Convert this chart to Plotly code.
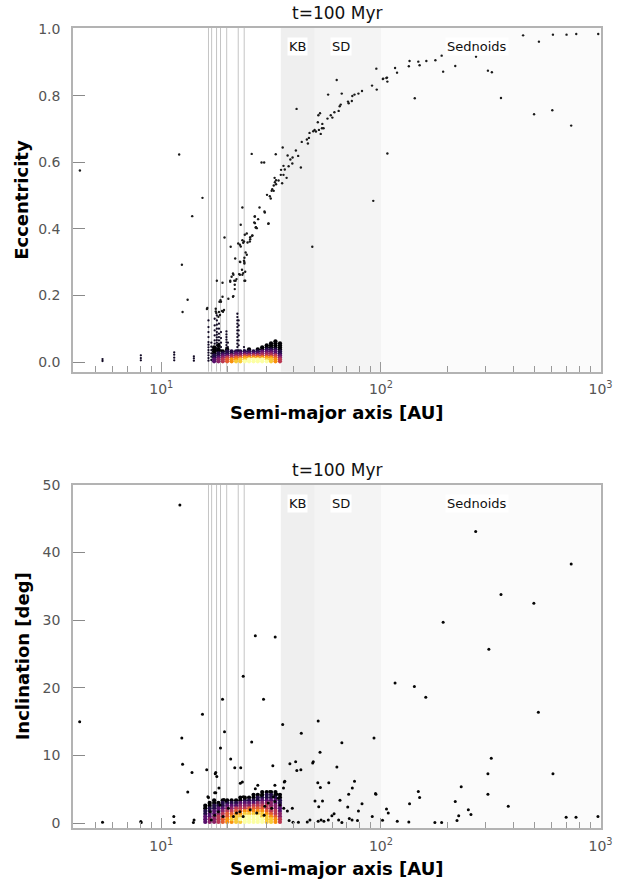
import math
import plotly.graph_objects as go

# ---------------- data ----------------
TITLE = "t=100 Myr"

# resonance locations [AU] (thin vertical lines)
resonance_a = [16.4, 16.95, 17.85, 18.6, 19.85, 22.4, 23.85]

# dynamical regions [AU]
region_names = ["KB", "SD", "Sednoids"]
region_lo = [35, 50, 100]
region_hi = [50, 100, 1000]
region_label_a = [41.6, 65.8, 275]

# x tick labels
xtick_vals = [10, 100, 1000]
xtick_text = ["10<sup>1</sup>", "10<sup>2</sup>", "10<sup>3</sup>"]

# ---- eccentricity panel: isolated particles (a [AU], e)
ecc_a = [4.26, 12.06, 15.4, 13.83, 12.41, 13.18, 12.5, 16.13, 48.7, 92.3, 107,
         95.3, 116, 118.4, 62.9, 102, 106.6, 107, 91.1, 95.7, 57.5, 66.3, 82.0, 79, 75.8, 74.1,
         73.7, 70.8, 71.3, 65.6, 64.9, 61.4, 64.2, 41.3, 52.8, 51.9, 59.1, 60.1, 57.1, 51.6,
         54.1, 53.9, 54.8, 52.2, 49.9, 50.6, 49.2, 53.2, 47.3, 47.0, 46.0, 43.6, 46.5, 35.7,
         33.2, 41.0, 37.6, 39.6, 42.0, 38.7, 39.5, 43.2, 38.0, 36.0, 36.5, 35.1, 35.0, 36.0,
         37.2, 32.8, 33.3, 34.2, 32.9, 32.5, 33.3, 32.0, 35.5, 31.8, 32.5, 30.3, 31.2, 31.5,
         25.8, 28.6, 29.4, 23.4, 28.0, 29.5, 29.6, 30.8, 26.7, 27.6, 26.5, 26.9, 27.2, 23.0,
         19.4, 24.5, 24.0, 26.0, 25.4, 23.4, 23.8, 22.4, 25.3, 23.6, 20.7, 23.0, 24.2, 24.5,
         21.7, 23.9, 23.8, 22.8, 23.9, 23.6, 23.4, 22.6, 21.2, 20.9, 22.0, 21.5, 21.8, 20.6,
         24.1, 17.9, 19.0, 21.6, 20.2, 21.2,
         21.3, 22.8, 23.9, 24.1, 23.3, 23.9, 22.9, 22.8, 24.7, 25.4, 25.9, 26.7, 27.0, 26.6, 30.7,
         17.7, 17.7, 18.4, 18.7, 18.9, 19.3, 18.3, 18.2, 18.5, 19.0, 18.6, 19.1, 21.3, 21.6,
         20.6, 16.2, 17.8,
         444, 607, 700, 775, 976, 524, 189, 177, 161, 148, 150, 135, 134, 102.5, 192, 218, 271,
         307, 320, 142.6, 352, 498, 603, 735, 105.9]
ecc_e = [0.575, 0.623, 0.493, 0.438, 0.292, 0.187, 0.150, 0.159, 0.346, 0.484, 0.626,
         0.881, 0.883, 0.869, 0.847, 0.850, 0.854, 0.842, 0.830, 0.818, 0.803, 0.806, 0.814, 0.806, 0.803, 0.799,
         0.784, 0.782, 0.777, 0.773, 0.768, 0.750, 0.754, 0.760, 0.747, 0.741, 0.741, 0.734, 0.731, 0.720,
         0.715, 0.702, 0.702, 0.697, 0.697, 0.692, 0.693, 0.685, 0.688, 0.673, 0.668, 0.661, 0.656, 0.644,
         0.624, 0.635, 0.620, 0.614, 0.619, 0.608, 0.596, 0.584, 0.588, 0.589, 0.578, 0.577, 0.562, 0.562,
         0.553, 0.553, 0.546, 0.545, 0.540, 0.530, 0.534, 0.519, 0.537, 0.514, 0.514, 0.502, 0.498, 0.491,
         0.625, 0.599, 0.599, 0.464, 0.464, 0.452, 0.449, 0.416, 0.437, 0.429, 0.419, 0.404, 0.402, 0.412,
         0.374, 0.386, 0.382, 0.380, 0.375, 0.366, 0.362, 0.356, 0.362, 0.358, 0.346, 0.347, 0.329, 0.322,
         0.311, 0.313, 0.304, 0.301, 0.296, 0.267, 0.262, 0.264, 0.266, 0.256, 0.249, 0.244, 0.244, 0.241,
         0.244, 0.244, 0.238, 0.219, 0.190, 0.196,
         0.262, 0.262, 0.244, 0.271, 0.277, 0.300, 0.300, 0.352, 0.359, 0.369, 0.379, 0.417, 0.405, 0.437, 0.415,
         0.160, 0.152, 0.181, 0.181, 0.153, 0.156, 0.150, 0.136, 0.141, 0.196, 0.186, 0.151, 0.198, 0.232,
         0.244, 0.162, 0.147,
         0.981, 0.983, 0.983, 0.985, 0.985, 0.962, 0.920, 0.906, 0.904, 0.902, 0.891, 0.904, 0.888, 0.851, 0.872, 0.889, 0.917,
         0.875, 0.870, 0.792, 0.793, 0.744, 0.756, 0.710, 0.853]

# ---- eccentricity panel: resonant / low-e columns (a [AU] with the e values in each column)
ecc_stack_a = [5.4, 8.07, 11.45, 14.07, 16.4, 16.9, 17.5, 17.9, 18.3, 18.7, 19.8, 20.1, 22.2, 22.5, 23.8]
ecc_stack_e = [
    [0.003, 0.009],
    [0.005, 0.012, 0.020],
    [0.005, 0.013, 0.022, 0.029],
    [0.004, 0.011, 0.017],
    [0.004, 0.012, 0.020, 0.028, 0.036, 0.044, 0.052, 0.060, 0.075, 0.090, 0.105, 0.125],
    [0.006, 0.016, 0.026, 0.036, 0.046, 0.058],
    [0.035, 0.045, 0.055, 0.065, 0.080, 0.095, 0.110, 0.130],
    [0.035, 0.042, 0.050, 0.058, 0.066, 0.074, 0.082, 0.090, 0.100, 0.112, 0.125, 0.140],
    [0.035, 0.045, 0.055, 0.065, 0.075, 0.085, 0.100, 0.115],
    [0.035, 0.045, 0.058, 0.072, 0.090],
    [0.035, 0.043, 0.051, 0.059, 0.067, 0.075, 0.083, 0.092],
    [0.035, 0.045, 0.058],
    [0.035, 0.045, 0.055, 0.065, 0.075, 0.085, 0.095, 0.105, 0.115, 0.125, 0.135, 0.145],
    [0.035, 0.050, 0.065, 0.080, 0.095, 0.110, 0.125],
    [0.035, 0.045],
]

# ---- eccentricity panel: dense classical belt (point density, 0 = empty)
ecc_band_a = [17.4, 18.2, 19.05, 19.95, 20.9, 21.9, 22.9, 24.0, 25.1, 26.3, 27.5, 28.8, 30.2, 31.6, 33.1, 34.7]
ecc_band_e = [0.002, 0.008, 0.014, 0.020, 0.026, 0.032, 0.038, 0.044, 0.050, 0.056, 0.062]
ecc_band_density = [
    [3, 4, 5, 6, 7, 8, 8, 9, 9, 9, 9, 9, 9, 8, 7, 5],
    [3, 4, 5, 6, 7, 7, 8, 8, 9, 9, 9, 9, 8, 8, 7, 5],
    [2, 3, 4, 5, 5, 6, 6, 7, 7, 7, 7, 7, 7, 7, 6, 4],
    [2, 2, 3, 3, 4, 4, 4, 5, 5, 5, 5, 5, 5, 5, 5, 3],
    [1, 2, 2, 2, 2, 3, 3, 3, 3, 3, 3, 4, 4, 4, 3, 2],
    [1, 1, 1, 2, 2, 2, 2, 2, 2, 2, 2, 3, 3, 3, 3, 2],
    [1, 1, 0, 1, 0, 0, 0, 0, 1, 0, 1, 1, 2, 2, 2, 1],
    [1, 0, 0, 0, 0, 0, 0, 0, 0, 0, 0, 1, 1, 1, 1, 1],
    [0, 1, 0, 0, 0, 0, 0, 0, 0, 0, 0, 0, 1, 1, 1, 1],
    [0, 0, 0, 0, 0, 0, 0, 0, 0, 0, 0, 0, 0, 1, 1, 1],
    [0, 0, 0, 0, 0, 0, 0, 0, 0, 0, 0, 0, 0, 0, 1, 0],
]

# ---- inclination panel: isolated particles (a [AU], i [deg])
inc_a = [4.25, 15.4, 12.4, 12.5, 13.8, 13.2, 11.4, 11.45, 5.4, 8.07, 8.1, 14.1, 14.0, 12.15,
         16.1, 16.3, 17.6, 17.9, 17.7, 17.5, 18.3, 18.6, 19.0, 19.4, 20.7, 21.6, 23.0, 23.6, 23.4,
         22.9, 25.8, 26.8, 29.2, 33.0, 27.5, 26.8, 28.6, 32.2, 32.9, 35.7, 36.3, 38.5, 40.9, 41.4,
         43.2, 43.4, 48.9, 49.2, 51.8, 52.8, 51.6, 53.0, 57.9, 50.1, 54.2, 52.1, 63.0, 66.4, 65.1,
         71.3, 74.1, 75.8, 70.6, 82.0, 79.0, 93.0, 94.5, 94.9, 91.3, 116, 106, 108, 101.7, 118.7,
         270, 735, 352, 497, 192, 310, 142, 160, 521, 318, 307, 607, 307, 380, 232, 218, 250, 257,
         226, 222, 148, 150, 135, 134, 176, 189, 697, 773, 973,
         39.5, 37.5, 36.1, 36.0, 38.2, 39.8, 42.1, 46.2, 47.5, 61.2, 59.8, 71.8, 73.9, 78.2, 66.4,
         64.2, 57.6, 55.0, 53.4, 51.8,
         16.4, 17.7, 19.3, 19.7, 23.6, 24.0, 31.2, 33.7, 36.5]
inc_i = [15.0, 16.1, 12.6, 8.7, 7.5, 4.6, 1.0, 0.1, 0.15, 0.25, 0.1, 0.5, 0.1, 47.0,
         7.9, 3.9, 7.3, 6.9, 7.5, 4.5, 5.2, 11.1, 18.3, 13.5, 9.5, 8.2, 8.2, 21.7, 6.1,
         5.9, 12.0, 27.7, 18.3, 27.5, 5.6, 5.1, 4.1, 8.5, 5.6, 14.6, 6.1, 8.8, 9.1, 7.8,
         7.9, 13.3, 8.9, 9.1, 15.1, 10.5, 6.0, 5.3, 6.0, 3.3, 3.3, 2.45, 8.3, 11.9, 3.4,
         4.3, 5.2, 6.2, 2.4, 2.9, 1.8, 12.6, 4.4, 4.3, 1.0, 20.7, 2.1, 1.5, 0.45, 0.3,
         43.1, 38.3, 33.8, 32.5, 29.7, 25.7, 20.2, 18.6, 16.4, 9.6, 7.3, 7.3, 4.3, 2.5, 5.4, 3.2, 2.0, 1.3,
         1.1, 0.4, 4.7, 3.8, 2.9, 0.2, 0.1, 0.1, 0.9, 0.9, 1.0,
         2.2, 1.8, 2.2, 5.2, 0.4, 0.15, 0.15, 0.2, 0.5, 1.4, 1.1, 0.7, 0.5, 0.4, 0.1,
         0.5, 0.5, 0.3, 0.5, 0.3,
         3.8, 4.5, 3.5, 3.3, 3.9, 3.7, 4.7, 4.3, 6.2]

# black particles lying on top of the dense belt (inclination panel)
inc_over_a = [22.0, 23.6, 20.2, 21.3, 27.2, 29.4, 19.1, 16.7, 16.9, 18.5, 25.4, 31.8, 34.1, 32.9,
              34.7, 30.7, 32.4, 29.6, 18.2, 17.5, 22.8]
inc_over_i = [1.5, 1.0, 2.2, 1.0, 1.5, 1.2, 1.0, 1.7, 0.5, 2.7, 2.0, 2.2, 3.7, 3.2,
              2.7, 3.0, 3.9, 2.5, 1.7, 1.2, 1.7]

# ---- inclination panel: dense belt (point density, 0 = empty)
inc_band_a = [15.85, 16.6, 17.4, 18.2, 19.05, 19.95, 20.9, 21.9, 22.9, 24.0, 25.1, 26.3, 27.5, 28.8,
              30.2, 31.6, 33.1, 34.7]
inc_band_i = [0.2, 0.6, 1.0, 1.4, 1.8, 2.2, 2.6, 3.0, 3.4, 3.8, 4.2, 4.6]
inc_band_density = [
    [3, 4, 4, 5, 6, 7, 7, 8, 8, 9, 9, 9, 9, 9, 8, 8, 7, 5],
    [3, 4, 4, 5, 6, 7, 8, 8, 9, 9, 9, 9, 9, 9, 8, 8, 7, 5],
    [3, 3, 4, 5, 5, 6, 7, 8, 8, 9, 9, 9, 9, 8, 8, 7, 6, 4],
    [2, 3, 3, 4, 5, 6, 6, 7, 7, 8, 8, 8, 8, 8, 7, 6, 5, 4],
    [2, 2, 3, 3, 4, 5, 5, 6, 6, 7, 7, 7, 7, 7, 6, 5, 5, 3],
    [1, 2, 2, 3, 3, 4, 4, 5, 5, 5, 6, 6, 6, 6, 5, 5, 4, 3],
    [1, 1, 2, 2, 2, 3, 3, 3, 4, 4, 4, 5, 5, 5, 5, 4, 4, 3],
    [0, 1, 1, 1, 2, 2, 2, 2, 3, 3, 3, 3, 4, 4, 4, 4, 3, 2],
    [0, 0, 1, 0, 1, 1, 1, 1, 1, 2, 2, 2, 2, 3, 3, 3, 3, 2],
    [0, 0, 0, 0, 0, 0, 0, 0, 1, 1, 1, 1, 2, 2, 2, 2, 2, 1],
    [0, 0, 0, 0, 0, 0, 0, 0, 0, 0, 0, 1, 1, 1, 2, 2, 1, 1],
    [0, 0, 0, 0, 0, 0, 0, 0, 0, 0, 0, 0, 0, 1, 1, 1, 1, 0],
]

# ---------------- helpers ----------------
FONT = "DejaVu Sans"


def grid_points(cols, rows, dens):
    pts = []
    for r, row in zip(rows, dens):
        for c, d in zip(cols, row):
            if d > 0:
                pts.append((d, c, r))
    pts.sort()
    return [p[1] for p in pts], [p[2] for p in pts], [p[0] for p in pts]


def flatten_cols(cols, levels):
    xs, ys = [], []
    for c, lv in zip(cols, levels):
        for v in lv:
            xs.append(c)
            ys.append(v)
    return xs, ys


fig = go.Figure()

# eccentricity panel
sx, sy = flatten_cols(ecc_stack_a, ecc_stack_e)
fig.add_trace(go.Scatter(x=sx, y=sy, mode="markers", xaxis="x", yaxis="y",
                         marker=dict(size=2.3, color="#120a25"), showlegend=False, hoverinfo="skip"))
bx, by, bc = grid_points(ecc_band_a, ecc_band_e, ecc_band_density)
fig.add_trace(go.Scatter(x=bx, y=by, mode="markers", xaxis="x", yaxis="y",
                         marker=dict(size=4.2, color=bc, colorscale="Inferno", cmin=1, cmax=9),
                         showlegend=False, hoverinfo="skip"))
fig.add_trace(go.Scatter(x=ecc_a, y=ecc_e, mode="markers", xaxis="x", yaxis="y",
                         marker=dict(size=2.4, color="#1a1a1a"), showlegend=False, hoverinfo="skip"))

# inclination panel
bx2, by2, bc2 = grid_points(inc_band_a, inc_band_i, inc_band_density)
fig.add_trace(go.Scatter(x=bx2, y=by2, mode="markers", xaxis="x2", yaxis="y2",
                         marker=dict(size=4.2, color=bc2, colorscale="Inferno", cmin=1, cmax=9),
                         showlegend=False, hoverinfo="skip"))
fig.add_trace(go.Scatter(x=inc_over_a, y=inc_over_i, mode="markers", xaxis="x2", yaxis="y2",
                         marker=dict(size=3.0, color="#050505"), showlegend=False, hoverinfo="skip"))
fig.add_trace(go.Scatter(x=inc_a, y=inc_i, mode="markers", xaxis="x2", yaxis="y2",
                         marker=dict(size=3.0, color="#050505"), showlegend=False, hoverinfo="skip"))

# ---------------- layout ----------------
minor_vals = [m * 10 ** k for k in range(0, 3) for m in range(2, 10) if 4 <= m * 10 ** k <= 1000]

tickfont = dict(family=FONT, size=14, color="#555555")


def xaxis_cfg(anchor):
    return dict(type="log", range=[0.598, 3.002], anchor=anchor, domain=[0, 1],
                showgrid=False, zeroline=False, showline=True, mirror=True,
                linecolor="#b3b3b3", linewidth=1.5,
                ticks="inside", ticklen=10, tickwidth=1.3, tickcolor="#9a9a9a",
                tickmode="array", tickvals=xtick_vals, ticktext=xtick_text,
                tickfont=tickfont, ticklabelstandoff=4,
                minor=dict(ticks="inside", ticklen=6, tickwidth=1.1, tickcolor="#9a9a9a",
                           tickmode="array", tickvals=minor_vals, showgrid=False))


def yaxis_cfg(anchor, domain, rng, dtick, fmt):
    return dict(range=rng, anchor=anchor, domain=domain, showgrid=False, zeroline=False,
                showline=True, mirror=True, linecolor="#b3b3b3", linewidth=1.5,
                ticks="inside", ticklen=12, tickwidth=1.3, tickcolor="#8a8a8a",
                tick0=0, dtick=dtick, tickformat=fmt, tickfont=tickfont,
                ticklabelstandoff=8)


TOP_DOM = [0.5704, 1.0]
BOT_DOM = [0.0, 0.4291]

shapes = []
annotations = []
region_fill = ["#efefef", "#f4f4f4", "#fbfbfb"]
for xa, ya in (("x", "y"), ("x2", "y2")):
    for lo, hi, col in zip(region_lo, region_hi, region_fill):
        shapes.append(dict(type="rect", xref=xa, yref=ya + " domain", x0=lo, x1=hi, y0=0, y1=1,
                           fillcolor=col, line=dict(width=0), layer="below"))
    for r in resonance_a:
        shapes.append(dict(type="line", xref=xa, yref=ya + " domain", x0=r, x1=r, y0=0, y1=1,
                           line=dict(color="#c4c4c4", width=1), layer="below"))
    for name, la in zip(region_names, region_label_a):
        annotations.append(dict(text=name, x=math.log10(la), xref=xa, y=0.945, yref=ya + " domain",
                                showarrow=False, font=dict(family=FONT, size=13, color="#111111"),
                                bgcolor="white", borderpad=1, xanchor="center", yanchor="middle"))

for dom in (TOP_DOM, BOT_DOM):
    annotations.append(dict(text=TITLE, x=0.5, xref="paper", y=dom[1], yref="paper", yshift=3,
                            showarrow=False, font=dict(family=FONT, size=17, color="#111111"),
                            xanchor="center", yanchor="bottom"))

annotations.append(dict(text="<b>Semi-major axis [AU]</b>", x=0.5, xref="paper", y=0.52, yref="paper",
                        showarrow=False, font=dict(family=FONT, size=18, color="black"),
                        xanchor="center", yanchor="middle"))
annotations.append(dict(text="<b>Semi-major axis [AU]</b>", x=0.5, xref="paper", y=-0.05, yref="paper",
                        showarrow=False, font=dict(family=FONT, size=18, color="black"),
                        xanchor="center", yanchor="middle"))
annotations.append(dict(text="<b>Eccentricity</b>", x=-0.0966, xref="paper",
                        y=(TOP_DOM[0] + TOP_DOM[1]) / 2, yref="paper", textangle=-90,
                        showarrow=False, font=dict(family=FONT, size=18, color="black"),
                        xanchor="center", yanchor="middle"))
annotations.append(dict(text="<b>Inclination [deg]</b>", x=-0.0966, xref="paper",
                        y=(BOT_DOM[0] + BOT_DOM[1]) / 2, yref="paper", textangle=-90,
                        showarrow=False, font=dict(family=FONT, size=18, color="black"),
                        xanchor="center", yanchor="middle"))

fig.update_layout(
    width=634, height=881,
    margin=dict(l=73, r=33, t=28, b=53),
    paper_bgcolor="white", plot_bgcolor="white",
    font=dict(family=FONT),
    xaxis=xaxis_cfg("y"),
    yaxis=yaxis_cfg("x", TOP_DOM, [-0.029, 1.003], 0.2, ".1f"),
    xaxis2=xaxis_cfg("y2"),
    yaxis2=yaxis_cfg("x2", BOT_DOM, [-0.7, 50.0], 10, "d"),
    shapes=shapes,
    annotations=annotations,
    showlegend=False,
)

fig.write_html("out.html", config={"displayModeBar": False},
               post_script="document.body.style.margin='0';document.body.style.overflow='hidden';")
